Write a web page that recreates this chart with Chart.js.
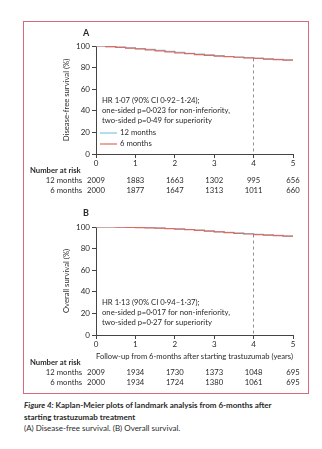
<!DOCTYPE html>
<html>
<head>
<meta charset="utf-8">
<script src="https://cdn.jsdelivr.net/npm/chart.js@4.4.1/dist/chart.umd.min.js"></script>
<style>
  body { margin: 0; background: #fff; width: 322px; height: 449px; position: relative; overflow: hidden; font-family: Lato, sans-serif; }
  #frame { position: absolute; left: 23px; top: 21px; width: 284px; height: 371px; border: 1px solid #d66a80; }
  .panel { position: absolute; left: 0; width: 322px; }
  #panelA { top: 21px; height: 180px; }
  #panelB { top: 201px; height: 192px; }
  #caption { position: absolute; left: 24px; top: 400px; font-size: 8px; color: #2a2a2a; line-height: 11.5px; white-space: nowrap; }
  #caption b { font-weight: 700; }
</style>
</head>
<body>
<div id="frame"></div>
<div class="panel" id="panelA"><canvas id="dfs" width="322" height="180"></canvas></div>
<div class="panel" id="panelB"><canvas id="os" width="322" height="192"></canvas></div>
<div id="caption">
  <b><i>Figure 4:</i> Kaplan-Meier plots of landmark analysis from 6-months after</b><br>
  <b>starting trastuzumab treatment</b><br>
  (A) Disease-free survival. (B) Overall survival.
</div>
<script>
// follow-up time grid (years) for the survival estimates
const years = [0, 0.25, 0.5, 0.75, 1, 1.25, 1.5, 1.75, 2, 2.25, 2.5, 2.75, 3, 3.25, 3.5, 3.75, 4, 4.25, 4.5, 4.75, 5]

// disease-free survival (%)
const dfs12 = [100, 99.5, 98.9, 98.2, 97.5, 96.8, 96.0, 95.1, 94.2, 93.3, 92.5, 91.7, 91.0, 90.3, 89.7, 89.1, 88.6, 88.1, 87.7, 87.1, 86.5]
const dfs6 = [100, 99.4, 98.8, 98.1, 97.3, 96.4, 95.5, 94.6, 93.7, 92.9, 92.1, 91.4, 90.7, 90.1, 89.6, 89.0, 88.5, 87.9, 87.4, 86.9, 86.3]

// overall survival (%)
const os12 = [100, 100, 99.9, 99.8, 99.6, 99.3, 98.9, 98.6, 98.2, 97.7, 97.1, 96.5, 95.8, 95.1, 94.5, 93.8, 93.3, 92.8, 92.2, 91.6, 91.1]
const os6 = [100, 100, 99.9, 99.7, 99.5, 99.2, 98.9, 98.5, 98.0, 97.5, 96.9, 96.2, 95.5, 94.8, 94.0, 93.5, 93.0, 92.5, 92.0, 91.5, 91.0]

// number at risk at each whole year
const riskYears = [0, 1, 2, 3, 4, 5]
const dfsRisk12 = [2009, 1883, 1663, 1302, 995, 656]
const dfsRisk6 = [2000, 1877, 1647, 1313, 1011, 660]
const osRisk12 = [2009, 1934, 1730, 1373, 1048, 695]
const osRisk6 = [2000, 1934, 1724, 1380, 1061, 695]

const seriesLabels = ['12 months', '6 months']
const landmarkYear = 4

const colors = { twelve: '#7cc8e2', six: '#e06a60', axis: '#444', text: '#2a2a2a', dash: '#777' }
const FONT = 'Lato, sans-serif'

const toPoints = (vals) => vals.map((v, i) => ({ x: years[i], y: v }))

// panel letter, annotation text, legend and the number-at-risk table
const panelDecor = {
  id: 'panelDecor',
  afterDraw(chart, args, opts) {
    const ctx = chart.ctx
    const xs = chart.scales.x
    ctx.save()
    ctx.fillStyle = colors.text
    ctx.textBaseline = 'middle'

    ctx.font = `bold 9px ${FONT}`
    ctx.textAlign = 'left'
    ctx.fillText(opts.letter, 83, 12)

    ctx.font = `7.7px ${FONT}`
    opts.notes.forEach((line, i) => ctx.fillText(line, 102, opts.notesY + i * 10))

    if (opts.legendY) {
      const entries = [[seriesLabels[0], colors.twelve], [seriesLabels[1], colors.six]]
      entries.forEach(([label, col], i) => {
        const y = opts.legendY + i * 11
        ctx.strokeStyle = col
        ctx.lineWidth = 1.2
        ctx.beginPath()
        ctx.moveTo(100, y)
        ctx.lineTo(117, y)
        ctx.stroke()
        ctx.fillText(label, 120, y)
      })
    }

    const ty = opts.tableY
    ctx.font = `bold 7.7px ${FONT}`
    ctx.fillText('Number at risk', 30, ty)
    ctx.font = `7.7px ${FONT}`
    ctx.textAlign = 'right'
    ctx.fillText(seriesLabels[0], 82, ty + 10)
    ctx.fillText(seriesLabels[1], 82, ty + 20)
    ctx.textAlign = 'center'
    riskYears.forEach((yr, i) => {
      const px = xs.getPixelForValue(yr)
      ctx.fillText(String(opts.risk12[i]), px, ty + 10)
      ctx.fillText(String(opts.risk6[i]), px, ty + 20)
    })
    ctx.restore()
  }
}

function makePanel(id, cfg) {
  const six = cfg.six
  const markY = six[years.indexOf(landmarkYear)]
  return new Chart(document.getElementById(id), {
    type: 'line',
    data: {
      datasets: [{
        label: seriesLabels[1],
        data: toPoints(six),
        borderColor: colors.six,
        order: 1
      }, {
        label: seriesLabels[0],
        data: toPoints(cfg.twelve),
        borderColor: colors.twelve,
        order: 2
      }, {
        label: 'landmark',
        data: [{ x: landmarkYear, y: markY }, { x: landmarkYear, y: 0 }],
        borderColor: colors.dash,
        borderDash: [3, 3],
        borderWidth: 0.8,
        stepped: false,
        order: 3
      }]
    },
    options: {
      responsive: false,
      animation: false,
      events: [],
      layout: { padding: { left: 62, right: 29, top: cfg.top, bottom: cfg.padBottom } },
      elements: {
        point: { radius: 0 },
        line: { borderWidth: 1.2, stepped: true, tension: 0 }
      },
      plugins: {
        legend: { display: false },
        tooltip: { enabled: false },
        panelDecor: cfg.decor
      },
      scales: {
        x: {
          type: 'linear',
          min: 0,
          max: 5,
          afterFit: (s) => { s.height = cfg.xHeight },
          ticks: { stepSize: 1, padding: 1, maxRotation: 0, color: colors.text, font: { family: FONT, size: 8 } },
          grid: { drawOnChartArea: false, tickLength: 4, color: colors.axis },
          border: { color: colors.axis },
          title: {
            display: !!cfg.xTitle,
            text: cfg.xTitle || '',
            color: colors.text,
            padding: 0,
            font: { family: FONT, size: 7.7 }
          }
        },
        y: {
          min: 0,
          max: 100,
          afterFit: (s) => { s.width = 34 },
          ticks: { stepSize: 20, padding: 2, color: colors.text, font: { family: FONT, size: 8 } },
          grid: { drawOnChartArea: false, tickLength: 4, color: colors.axis },
          border: { color: colors.axis },
          title: {
            display: true,
            text: cfg.yTitle,
            color: colors.text,
            padding: 0,
            font: { family: FONT, size: 7.7 }
          }
        }
      }
    },
    plugins: [panelDecor]
  })
}

makePanel('dfs', {
  twelve: dfs12,
  six: dfs6,
  top: 25,
  xHeight: 14,
  padBottom: 33,
  yTitle: 'Disease-free survival (%)',
  decor: {
    letter: 'A',
    notes: ['HR 1·07 (90% CI 0·92–1·24);', 'one-sided p=0·023 for non-inferiority,', 'two-sided p=0·49 for superiority'],
    notesY: 80,
    legendY: 112,
    tableY: 150,
    risk12: dfsRisk12,
    risk6: dfsRisk6
  }
})

makePanel('os', {
  twelve: os12,
  six: os6,
  top: 26,
  xHeight: 26,
  padBottom: 32,
  yTitle: 'Overall survival (%)',
  xTitle: 'Follow-up from 6-months after starting trastuzumab (years)',
  decor: {
    letter: 'B',
    notes: ['HR 1·13 (90% CI 0·94–1·37);', 'one-sided p=0·017 for non-inferiority,', 'two-sided p=0·27 for superiority'],
    notesY: 102,
    tableY: 162,
    risk12: osRisk12,
    risk6: osRisk6
  }
})
</script>
</body>
</html>
